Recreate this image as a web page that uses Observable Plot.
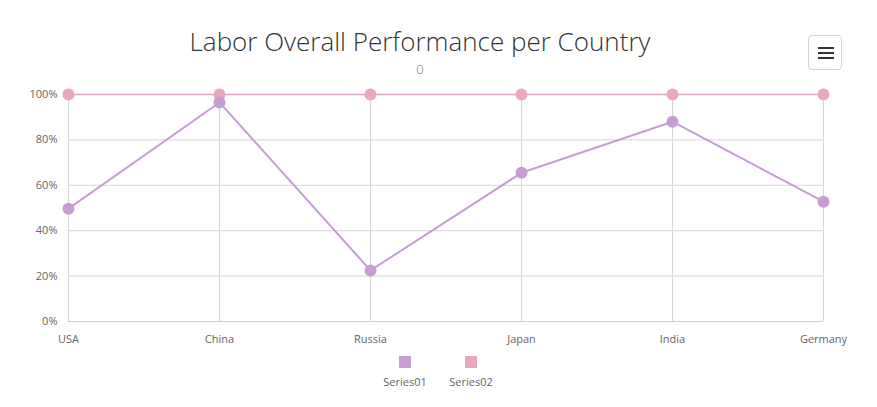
<!DOCTYPE html>
<html><head><meta charset="utf-8">
<script src="https://cdn.jsdelivr.net/npm/d3@7"></script>
<script src="https://cdn.jsdelivr.net/npm/@observablehq/plot@0.6"></script>
<style>
body{margin:0;background:#fff;font-family:"Open Sans","Noto Sans",sans-serif;}
#wrap{position:relative;width:877px;height:407px;overflow:hidden;}
#title{position:absolute;left:0;width:840px;top:26px;text-align:center;font-size:26px;font-weight:300;color:#333;line-height:30px;white-space:nowrap;}
#subtitle{position:absolute;left:0;width:840px;top:62px;text-align:center;font-size:13px;font-weight:300;color:#777;line-height:15px;}
#menu{position:absolute;left:808px;top:35px;width:34px;height:35px;border:1px solid #d4d4d4;border-radius:4px;background:#fff;box-sizing:border-box;}
#menu span{position:absolute;left:9px;width:16px;height:2px;background:#333;}
#chart{position:absolute;left:0;top:80px;}
#legend{position:absolute;top:356px;left:0;width:877px;height:40px;}
.item{position:absolute;width:70px;text-align:center;font-size:11px;color:#666;}
.item .sw{width:12px;height:12px;margin:0 auto 6px auto;}
</style></head>
<body>
<div id="wrap">
  <div id="title">Labor Overall Performance per Country</div>
  <div id="subtitle">0</div>
  <div id="menu"><span style="top:11px"></span><span style="top:16px"></span><span style="top:21px"></span></div>
  <div id="chart"></div>
  <div id="legend"></div>
</div>
<script>
const categories = ["USA", "China", "Russia", "Japan", "India", "Germany"];
const series01 = [49.7, 96.5, 22.5, 65.5, 88, 52.8];
const series02 = [100, 100, 100, 100, 100, 100];
const yTicks = [0, 20, 40, 60, 80, 100];
const seriesNames = ["Series01", "Series02"];
const seriesColors = ["#c89dd5", "#eba7c0"];

const rows = categories.map((c, i) => ({country: c, s1: series01[i], s2: series02[i]}));

const chart = Plot.plot({
  width: 877,
  height: 270,
  marginLeft: 68,
  marginRight: 54,
  marginTop: 14,
  marginBottom: 29,
  style: {fontFamily: '"Open Sans","Noto Sans",sans-serif', fontSize: "11px", color: "#666", background: "transparent"},
  x: {type: "point", domain: categories, padding: 0},
  y: {domain: [0, 100]},
  marks: [
    Plot.gridX(categories, {stroke: "#d6d6d6", strokeOpacity: 1}),
    Plot.gridY(yTicks, {stroke: "#d6d6d6", strokeOpacity: 1}),
    Plot.ruleY([0], {stroke: "#cfcfcf"}),
    Plot.axisX({tickSize: 0, tickPadding: 14, fill: "#666", label: null}),
    Plot.axisY({ticks: yTicks, tickFormat: d => d + "%", tickSize: 0, tickPadding: 11, fill: "#666", label: null}),
    Plot.lineY(rows, {x: "country", y: "s2", stroke: "#dba5c8", strokeWidth: 1.5}),
    Plot.dot(rows, {x: "country", y: "s2", r: 6, fill: seriesColors[1]}),
    Plot.lineY(rows, {x: "country", y: "s1", stroke: "#c79ed3", strokeWidth: 2}),
    Plot.dot(rows, {x: "country", y: "s1", r: 6, fill: seriesColors[0]})
  ]
});
document.getElementById("chart").appendChild(chart);

const legend = document.getElementById("legend");
const centers = [405, 471];
seriesNames.forEach((n, i) => {
  const d = document.createElement("div");
  d.className = "item";
  d.style.left = (centers[i] - 35) + "px";
  d.innerHTML = `<div class="sw" style="background:${seriesColors[i]}"></div>${n}`;
  legend.appendChild(d);
});
</script>
</body></html>
